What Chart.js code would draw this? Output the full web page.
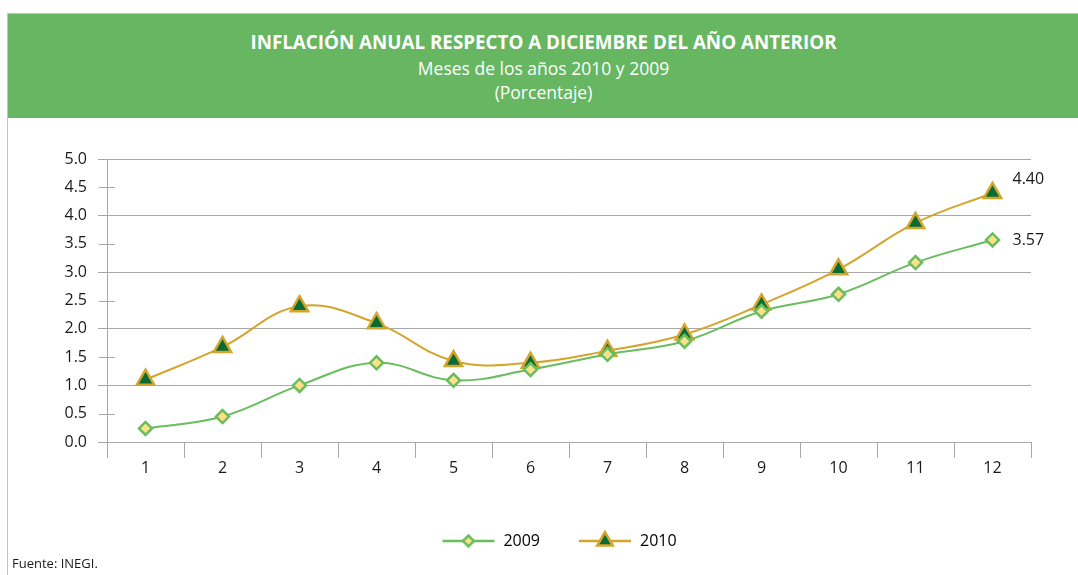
<!DOCTYPE html>
<html>
<head>
<meta charset="utf-8">
<script src="https://cdn.jsdelivr.net/npm/chart.js@4/dist/chart.umd.min.js"></script>
<style>
  body { margin: 0; background: #fff; font-family: "Open Sans", sans-serif; }
  #frame { position: absolute; left: 7px; top: 13px; width: 1071px; height: 562px;
           border-left: 1px solid #c4c4c4; border-top: 1px solid #c4c4c4; }
  #head { position: absolute; left: 0; top: 0; width: 1071px; height: 104px; background: #66b662;
          color: #fff; text-align: center; }
  #head .t1 { position: absolute; top: 15px; width: 100%; font-size: 18.8px; font-weight: bold; }
  #head .t2 { position: absolute; top: 42px; width: 100%; font-size: 17.5px; }
  #head .t3 { position: absolute; top: 66px; width: 100%; font-size: 17.5px; }
  #wrap { position: absolute; left: 1px; top: 105px; width: 1070px; height: 457px; }
  #fuente { position: absolute; left: 4px; top: 540px; font-size: 13px; color: #1a1a1a; }
</style>
</head>
<body>
<div id="frame">
  <div id="head">
    <div class="t1">INFLACIÓN ANUAL RESPECTO A DICIEMBRE DEL AÑO ANTERIOR</div>
    <div class="t2">Meses de los años 2010 y 2009</div>
    <div class="t3">(Porcentaje)</div>
  </div>
  <div id="wrap"><canvas id="infChart"></canvas></div>
  <div id="fuente">Fuente: INEGI.</div>
</div>
<script>
var meses = ['1', '2', '3', '4', '5', '6', '7', '8', '9', '10', '11', '12'];
var serie2009 = [0.24, 0.45, 1.00, 1.40, 1.09, 1.28, 1.55, 1.78, 2.31, 2.61, 3.17, 3.57];
var serie2010 = [1.10, 1.68, 2.40, 2.10, 1.43, 1.40, 1.61, 1.90, 2.43, 3.05, 3.87, 4.40];

var verde = '#6abd5f', amarillo = '#ffe08a';
var oro = '#d4a52c', verdeOsc = '#0b6b34';

function legendImg(lineColor, style, r, fill, stroke, bw) {
    var c = document.createElement('canvas');
    c.width = 54; c.height = 24;
    var g = c.getContext('2d');
    g.strokeStyle = lineColor; g.lineWidth = 2.5;
    g.beginPath(); g.moveTo(1, 12); g.lineTo(53, 12); g.stroke();
    g.fillStyle = fill; g.strokeStyle = stroke;
    Chart.helpers.drawPoint(g, {pointStyle: style, radius: r, rotation: 0, borderWidth: bw}, 27, 12);
    return c;
}

// value labels next to the last point of each series
var endLabels = {
    id: 'endLabels',
    afterDatasetsDraw: function(chart) {
	var ctx = chart.ctx;
	ctx.save();
	ctx.font = '16px "Open Sans"';
	ctx.fillStyle = '#1a1a1a';
	ctx.textBaseline = 'middle';
	chart.data.datasets.forEach(function(ds, i) {
	    var pts = chart.getDatasetMeta(i).data;
	    var p = pts[pts.length - 1];
	    var dy = i == 1 ? -14 : 0;
	    ctx.fillText(ds.data[ds.data.length - 1].toFixed(2), p.x + 20, p.y + dy);
	});
	ctx.restore();
    }
};

// short ticks crossing the axis at the half steps
var minorTicks = {
    id: 'minorTicks',
    afterDraw: function(chart) {
	var y = chart.scales.y, ctx = chart.ctx;
	ctx.save();
	ctx.strokeStyle = '#a8a8a8';
	ctx.lineWidth = 1;
	y.ticks.forEach(function(t) {
	    if (Math.abs(t.value - Math.round(t.value)) > 0.01) {
		var py = Math.round(y.getPixelForValue(t.value)) + 0.5;
		ctx.beginPath();
		ctx.moveTo(y.right - 8, py);
		ctx.lineTo(y.right + 8, py);
		ctx.stroke();
	    }
	});
	ctx.restore();
    }
};

// legend sits a bit right of the canvas centre
var legendShift = {
    id: 'legendShift',
    afterLayout: function(chart) {
	chart.legend.left += 24;
	chart.legend.right += 24;
    }
};

var ctx = document.getElementById('infChart').getContext('2d');
var myChart = new Chart(ctx, {
    type: 'line',
    data: {
	labels: meses,
	datasets: [{
	    label: '2009',
	    data: serie2009,
	    borderColor: verde,
	    borderWidth: 2,
	    tension: 0.4,
	    pointStyle: 'rectRot',
	    pointRadius: 6.5,
	    pointBorderWidth: 2.5,
	    pointBackgroundColor: amarillo,
	    pointBorderColor: verde
	}, {
	    label: '2010',
	    data: serie2010,
	    borderColor: oro,
	    borderWidth: 2,
	    tension: 0.4,
	    pointStyle: 'triangle',
	    pointRadius: 10,
	    pointBorderWidth: 2.5,
	    pointBackgroundColor: verdeOsc,
	    pointBorderColor: oro
	}]
    },
    options: {
	responsive: true,
	maintainAspectRatio: false,
	animation: false,
	layout: { padding: { left: 30, right: 48, top: 40, bottom: 17 } },
	plugins: {
	    tooltip: { enabled: false },
	    legend: {
		position: 'bottom',
		labels: {
		    usePointStyle: true,
		    pointStyleWidth: 54,
		    padding: 38,
		    color: '#1a1a1a',
		    font: { family: 'Open Sans', size: 16 },
		    generateLabels: function(chart) {
			return [
			    { text: '2009', pointStyle: legendImg(verde, 'rectRot', 5.5, amarillo, verde, 2), fillStyle: 'transparent', strokeStyle: 'transparent', lineWidth: 0, datasetIndex: 0 },
			    { text: '2010', pointStyle: legendImg(oro, 'triangle', 9, verdeOsc, oro, 2.5), fillStyle: 'transparent', strokeStyle: 'transparent', lineWidth: 0, datasetIndex: 1 }
			];
		    }
		}
	    }
	},
	scales: {
	    x: {
		offset: true,
		grid: { offset: true, drawOnChartArea: false, tickLength: 16, color: '#a8a8a8' },
		border: { color: '#a8a8a8' },
		ticks: { color: '#1a1a1a', padding: 1, font: { family: 'Open Sans', size: 16 }, maxRotation: 0 },
		afterFit: function(s) { s.height = 53; }
	    },
	    y: {
		min: 0,
		max: 5,
		ticks: {
		    stepSize: 0.5,
		    padding: 11,
		    color: '#1a1a1a',
		    font: { family: 'Open Sans', size: 16 },
		    callback: function(v) { return v.toFixed(1); }
		},
		grid: {
		    tickLength: 9,
		    color: function(c) { return Math.abs(c.tick.value - Math.round(c.tick.value)) < 0.01 ? '#a8a8a8' : 'rgba(0,0,0,0)'; }
		},
		border: { color: '#a8a8a8' },
		afterFit: function(s) { s.width = 68; }
	    }
	}
    },
    plugins: [endLabels, minorTicks, legendShift]
});
</script>
</body>
</html>
